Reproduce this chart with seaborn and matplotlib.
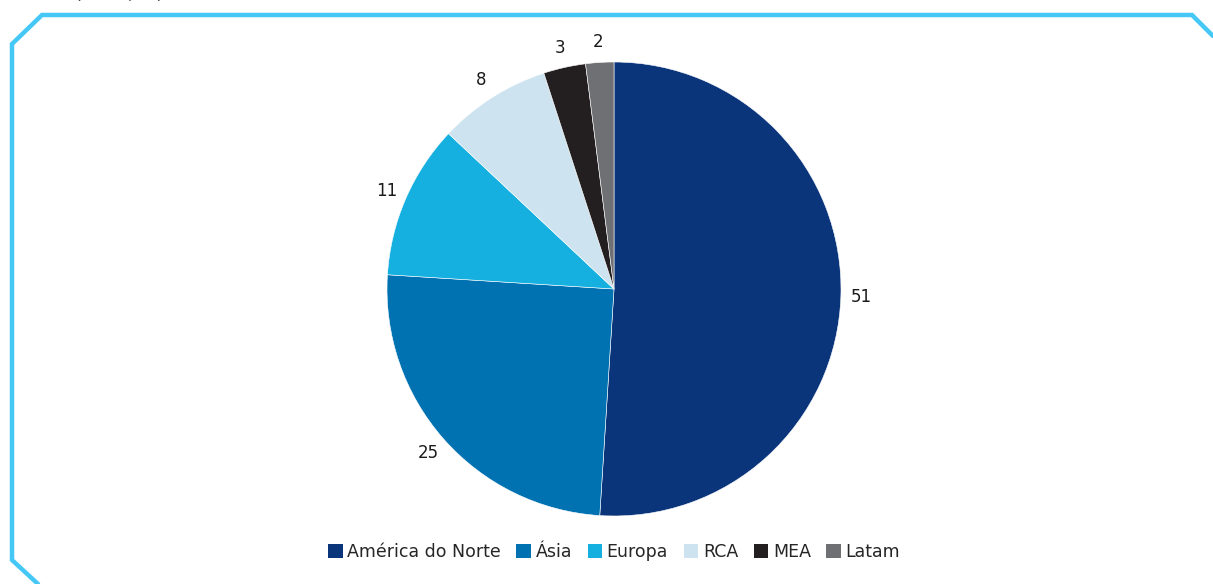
import matplotlib
matplotlib.use('Agg')
import matplotlib.pyplot as plt
from matplotlib.lines import Line2D
from matplotlib.patches import Patch
import seaborn as sns

regions = ['América do Norte', 'Ásia', 'Europa', 'RCA', 'MEA', 'Latam']
shares = [51, 25, 11, 8, 3, 2]
colors = ['#0b357b', '#0071b1', '#15b0e0', '#cde4f0', '#231f20', '#6f7074']

sns.set_theme(style='white')
plt.rcParams['font.family'] = ['DejaVu Sans']

W, H = 1213, 584
fig = plt.figure(figsize=(W / 100, H / 100), dpi=100)

# pie axes: centre at (614, 289) px, radius ~227 px
lim = 1.3
side = 2 * 227 * lim
cx, cy = 614, H - 289
ax = fig.add_axes([(cx - side / 2) / W, (cy - side / 2) / H, side / W, side / H])
wedges, texts = ax.pie(shares, colors=sns.color_palette(colors), labels=[str(v) for v in shares],
                       startangle=90, counterclock=False, labeldistance=1.09,
                       wedgeprops=dict(linewidth=0.4, edgecolor='white'),
                       textprops=dict(fontsize=12, color='#1a1a1a'))
for t in texts:
    t.set_ha('center')
    t.set_va('center')
ax.set_xlim(-lim, lim)
ax.set_ylim(-lim, lim)
ax.set_aspect('equal')
ax.axis('off')

handles = [Patch(facecolor=c, edgecolor='none') for c in colors]
fig.legend(handles, regions, loc='center', bbox_to_anchor=(614 / W, 1 - 552 / H),
           ncol=6, frameon=False, fontsize=12.5, handlelength=0.85, handleheight=0.85,
           handletextpad=0.25, columnspacing=0.9, borderaxespad=0)

# cyan frame with cut corners
pts = [(38, 584), (12, 560), (12, 44), (42, 15), (1192, 15), (1213, 36)]
xs = [p[0] / W for p in pts]
ys = [1 - p[1] / H for p in pts]
fig.add_artist(Line2D(xs, ys, transform=fig.transFigure, color='#45c8f5', linewidth=3.2,
                      solid_joinstyle='miter', clip_on=False))

# subtitle cut off by the top edge, as in the source
fig.text(75 / W, 1 + 1 / H, '(2023, %)', fontsize=13, color='#444444', va='baseline', ha='left')

fig.savefig('out.png', dpi=100, facecolor='white')
